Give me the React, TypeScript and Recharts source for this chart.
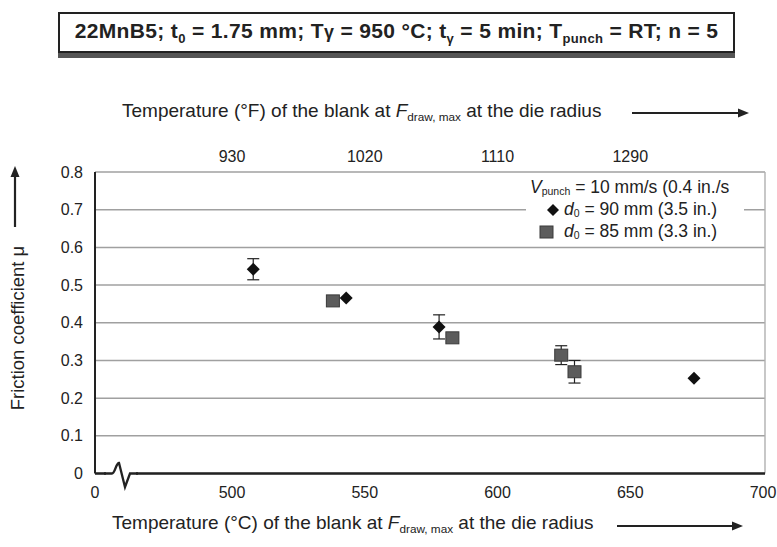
import React from 'react';
import { ScatterChart, Scatter, XAxis, YAxis, CartesianGrid, ErrorBar, ReferenceLine } from 'recharts';

// d0 = 90 mm (3.5 in.)
const d90Temp = [508, 543, 578, 674];
const d90Mu = [0.542, 0.466, 0.389, 0.253];
const d90Err = [0.028, 0, 0.032, 0];

// d0 = 85 mm (3.3 in.)
const d85Temp = [538, 583, 624, 629];
const d85Mu = [0.458, 0.36, 0.314, 0.27];
const d85Err = [0, 0, 0.025, 0.03];

// axis break: the left end of the °C axis stands for 0
const xMin = 448.4;
const xMax = 700.75;
const xTicksC = [448.4, 500, 550, 600, 650, 700];
const xTickLabelsC = ['0', '500', '550', '600', '650', '700'];
const xTicksF = [500, 550, 600, 650];
const xTickLabelsF = ['930', '1020', '1110', '1290'];
const yTicks = [0, 0.1, 0.2, 0.3, 0.4, 0.5, 0.6, 0.7, 0.8];
const yTickLabels = ['0', '0.1', '0.2', '0.3', '0.4', '0.5', '0.6', '0.7', '0.8'];

const d90 = d90Temp.map((t, i) => ({ t, mu: d90Mu[i], err: d90Err[i] }));
const d85 = d85Temp.map((t, i) => ({ t, mu: d85Mu[i], err: d85Err[i] }));

const FONT = '"Liberation Sans", Arial, sans-serif';
const INK = '#222';

const Diamond = (p: any) => {
  const { cx, cy } = p;
  return <path d={`M${cx},${cy - 6.5} L${cx + 6.5},${cy} L${cx},${cy + 6.5} L${cx - 6.5},${cy} Z`} fill="#111" />;
};

const Square = (p: any) => {
  const { cx, cy } = p;
  return <rect x={cx - 6.5} y={cy - 6} width={13} height={12} fill="#5c5c5c" stroke="#3a3a3a" strokeWidth={1} />;
};

const labelFor = (ticks: number[], labels: string[]) => (v: number) => {
  const i = ticks.indexOf(v);
  return i >= 0 ? labels[i] : '';
};

const Arrow = ({ x1, y1, x2, y2 }: { x1: number; y1: number; x2: number; y2: number }) => {
  const a = Math.atan2(y2 - y1, x2 - x1);
  const L = 11, Wd = 4.5;
  const bx = x2 - L * Math.cos(a), by = y2 - L * Math.sin(a);
  const px = -Math.sin(a) * Wd, py = Math.cos(a) * Wd;
  return (
    <g>
      <line x1={x1} y1={y1} x2={bx} y2={by} stroke={INK} strokeWidth={2.2} />
      <path d={`M${x2},${y2} L${bx + px},${by + py} L${bx - px},${by - py} Z`} fill={INK} />
    </g>
  );
};

export default function App() {
  const sub: React.CSSProperties = { fontSize: '0.62em', verticalAlign: '-0.35em' };
  const lsub: React.CSSProperties = { fontSize: '0.6em', verticalAlign: '-0.2em', lineHeight: 1 };
  const row: React.CSSProperties = { display: 'flex', alignItems: 'center', height: 22, lineHeight: 1 };
  const tickStyle = { fill: INK, fontSize: 16, fontFamily: FONT };
  return (
    <div style={{ position: 'absolute', left: 0, top: 0, width: 777, height: 547, background: '#fff', fontFamily: FONT, color: INK }}>
      <ScatterChart width={777} height={547} margin={{ top: 147, right: 12, bottom: 43.5, left: 50 }}>
        <CartesianGrid vertical={false} stroke="#a0a0a0" strokeWidth={1.5} />
        <XAxis
          xAxisId="c"
          type="number"
          dataKey="t"
          domain={[xMin, xMax]}
          ticks={xTicksC}
          tickFormatter={labelFor(xTicksC, xTickLabelsC)}
          allowDataOverflow
          height={30}
          tickLine={false}
          tickSize={0}
          tickMargin={13}
          axisLine={{ stroke: INK, strokeWidth: 2.5 }}
          tick={tickStyle}
        />
        <XAxis
          xAxisId="f"
          orientation="top"
          type="number"
          dataKey="t"
          domain={[xMin, xMax]}
          ticks={xTicksF}
          tickFormatter={labelFor(xTicksF, xTickLabelsF)}
          allowDataOverflow
          height={25}
          tickLine={false}
          tickSize={0}
          tickMargin={10}
          axisLine={false}
          tick={tickStyle}
        />
        <YAxis
          type="number"
          dataKey="mu"
          domain={[0, 0.8]}
          ticks={yTicks}
          tickFormatter={labelFor(yTicks, yTickLabels)}
          width={45}
          tickLine={false}
          tickSize={0}
          tickMargin={12}
          axisLine={{ stroke: INK, strokeWidth: 2 }}
          tick={tickStyle}
        />
        <ReferenceLine xAxisId="c" x={xMax} stroke="#b0b0b0" strokeWidth={1.4} />
        <Scatter name="d0 = 85 mm (3.3 in.)" data={d85} xAxisId="c" shape={Square} isAnimationActive={false}>
          <ErrorBar dataKey="err" direction="y" width={6} stroke={INK} strokeWidth={1.2} />
        </Scatter>
        <Scatter name="d0 = 90 mm (3.5 in.)" data={d90} xAxisId="c" shape={Diamond} isAnimationActive={false}>
          <ErrorBar dataKey="err" direction="y" width={6} stroke={INK} strokeWidth={1.2} />
        </Scatter>
      </ScatterChart>

      {/* decorations: axis break, arrows */}
      <svg width={777} height={547} style={{ position: 'absolute', left: 0, top: 0, pointerEvents: 'none' }}>
        <rect x={106} y={468} width={30} height={11} fill="#fff" />
        <path d="M104,473.5 L112,473.5 C115,473.5 116,463 119,463 L125,487 L130,473.5 L138,473.5" fill="none" stroke={INK} strokeWidth={2.3} />
        <Arrow x1={632} y1={113} x2={749} y2={113} />
        <Arrow x1={617} y1={526} x2={743} y2={526} />
        <Arrow x1={15} y1={227} x2={15} y2={166} />
      </svg>

      {/* title box */}
      <div style={{ position: 'absolute', left: 58, top: 12, width: 673, height: 37, border: '2px solid #222', boxShadow: '0 5px 0 #555', background: '#fff', display: 'flex', alignItems: 'center', justifyContent: 'center', fontSize: 21, fontWeight: 'bold', letterSpacing: 0.35, whiteSpace: 'nowrap' }}>
        <span>
          22MnB5; t<span style={sub}>0</span> = 1.75 mm; T<span style={{ fontSize: '0.85em' }}>γ</span> = 950 °C; t<span style={sub}>γ</span> = 5 min; T<span style={sub}>punch</span> = RT; n = 5
        </span>
      </div>

      {/* top axis title */}
      <div style={{ position: 'absolute', left: 122, top: 100, fontSize: 19, whiteSpace: 'nowrap' }}>
        Temperature (°F) of the blank at <i>F</i><span style={sub}>draw, max</span> at the die radius
      </div>

      {/* bottom axis title */}
      <div style={{ position: 'absolute', left: 112, top: 512, fontSize: 19, whiteSpace: 'nowrap' }}>
        Temperature (°C) of the blank at <i>F</i><span style={sub}>draw, max</span> at the die radius
      </div>

      {/* y axis title */}
      <div style={{ position: 'absolute', left: 18, top: 328, transform: 'translate(-50%, -50%) rotate(-90deg)', fontSize: 18.5, whiteSpace: 'nowrap' }}>
        Friction coefficient μ
      </div>

      {/* legend */}
      <div style={{ position: 'absolute', left: 526, top: 177, width: 218, background: '#fff', fontSize: 17.5, whiteSpace: 'nowrap' }}>
        <div style={{ ...row, paddingLeft: 4 }}>
          <span><i>V</i><span style={lsub}>punch</span> = 10 mm/s (0.4 in./s</span>
        </div>
        <div style={row}>
          <svg width={38} height={22}><path d="M27,5 L33,11 L27,17 L21,11 Z" fill="#111" /></svg>
          <span><i>d</i><span style={lsub}>0</span> = 90 mm (3.5 in.)</span>
        </div>
        <div style={row}>
          <svg width={38} height={22}><rect x={14} y={5} width={13} height={12} fill="#5c5c5c" stroke="#3a3a3a" /></svg>
          <span><i>d</i><span style={lsub}>0</span> = 85 mm (3.3 in.)</span>
        </div>
      </div>
    </div>
  );
}
